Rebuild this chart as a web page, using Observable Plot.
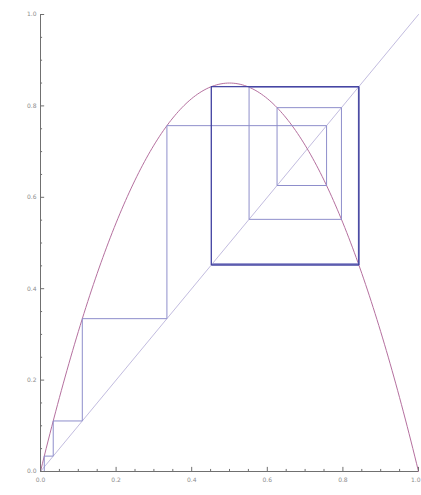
<!DOCTYPE html>
<html>
<head>
<meta charset="utf-8">
<script src="https://cdn.jsdelivr.net/npm/d3@7"></script>
<script src="https://cdn.jsdelivr.net/npm/@observablehq/plot@0.6"></script>
<style>
  html, body { margin: 0; padding: 0; background: #fff; }
  svg { display: block; }
</style>
</head>
<body>
<div id="chart"></div>
<script>
// Logistic map x -> r x (1 - x), cobweb diagram
const growthRate = 3.4;

// Orbit iterates from x0 = 0.01 until it settles near the 2-cycle
const transientOrbit = [0.01, 0.03366, 0.11059, 0.33442, 0.75678, 0.62582, 0.79617, 0.55176, 0.84088, 0.45490];
// The settled period-2 cycle and how many laps are traced round it
const cycleValues = [0.4520, 0.8422];
const cycleLaps = 6;

// Axis ticks
const majorTicks = [0, 0.2, 0.4, 0.6, 0.8, 1.0];
const minorTicks = [0.05, 0.1, 0.15, 0.25, 0.3, 0.35, 0.45, 0.5, 0.55, 0.65, 0.7, 0.75, 0.85, 0.9, 0.95];
const tickLabels = ["0.0", "0.2", "0.4", "0.6", "0.8", "1.0"];

// Curve samples of the map on [0, 1]
const curveX = d3.range(0, 1.0001, 0.005);
const curve = curveX.map(x => ({x, y: growthRate * x * (1 - x)}));

// Cobweb segments: vertical to the curve, horizontal to the diagonal
function cobweb(values, startOnAxis) {
  const segs = [];
  if (startOnAxis) segs.push({x1: values[0], y1: 0, x2: values[0], y2: values[1]});
  for (let i = 0; i + 1 < values.length; i++) {
    const a = values[i], b = values[i + 1];
    if (i > 0 || !startOnAxis) segs.push({x1: a, y1: a, x2: a, y2: b});
    segs.push({x1: a, y1: b, x2: b, y2: b});
  }
  return segs;
}
const transientSegs = cobweb(transientOrbit, true);
const cycleSeq = [];
for (let k = 0; k < cycleLaps; k++) cycleSeq.push(...cycleValues);
cycleSeq.push(cycleValues[0]);
const cycleSegs = cobweb(cycleSeq, false);

const axisColor = "#707070";
const labelColor = "#8c8c8c";
const xLabelTicks = majorTicks.slice(0, -1);
const lastTick = majorTicks.slice(-1);

const chart = Plot.plot({
  width: 421,
  height: 495,
  marginLeft: 40,
  marginRight: 3,
  marginTop: 14,
  marginBottom: 24,
  x: {domain: [0, 1], axis: null},
  y: {domain: [0, 1], axis: null},
  style: {background: "#fff", fontFamily: "DejaVu Sans"},
  marks: [
    // diagonal y = x
    Plot.line([{x: 0, y: 0}, {x: 1, y: 1}], {x: "x", y: "y", stroke: "#c2bcdf", strokeWidth: 1}),
    // the map
    Plot.line(curve, {x: "x", y: "y", stroke: "#b5709f", strokeWidth: 1, curve: "linear"}),
    // cobweb
    Plot.link(transientSegs, {x1: "x1", y1: "y1", x2: "x2", y2: "y2", stroke: "#8e8ecb", strokeWidth: 1}),
    Plot.link(cycleSegs, {x1: "x1", y1: "y1", x2: "x2", y2: "y2", stroke: "#40409f", strokeWidth: 0.45}),
    // axes
    Plot.ruleY([0], {x1: 0, x2: 1, stroke: axisColor, strokeWidth: 1}),
    Plot.ruleX([0], {y1: 0, y2: 1, stroke: axisColor, strokeWidth: 1}),
    Plot.ruleX(majorTicks, {x: d => d, y1: 0, y2: 0.009, stroke: axisColor}),
    Plot.ruleX(minorTicks, {x: d => d, y1: 0, y2: 0.0045, stroke: axisColor}),
    Plot.ruleY(majorTicks, {y: d => d, x1: 0, x2: 0.011, stroke: axisColor}),
    Plot.ruleY(minorTicks, {y: d => d, x1: 0, x2: 0.0055, stroke: axisColor}),
    Plot.text(xLabelTicks, {x: d => d, y: 0, dy: 9, text: (d, i) => tickLabels[i], fontSize: 6, fill: labelColor}),
    Plot.text(lastTick, {x: d => d, y: 0, dy: 9, dx: 2, textAnchor: "end", text: () => tickLabels[tickLabels.length - 1], fontSize: 6, fill: labelColor}),
    Plot.text(majorTicks, {x: 0, y: d => d, dx: -4, textAnchor: "end", text: (d, i) => tickLabels[i], fontSize: 6, fill: labelColor})
  ]
});
document.getElementById("chart").appendChild(chart);
</script>
</body>
</html>
